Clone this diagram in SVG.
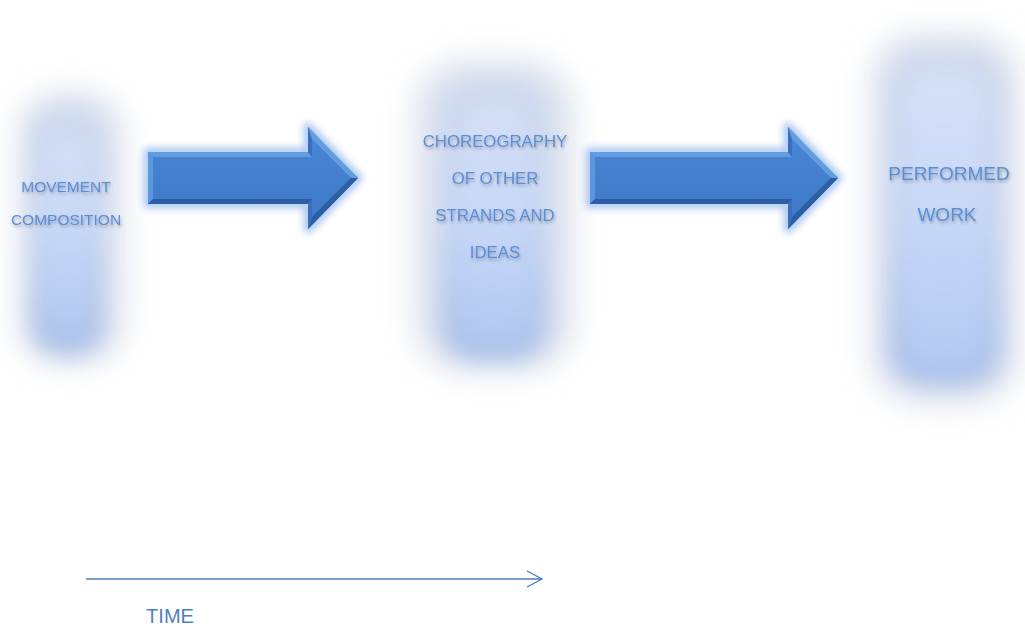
<svg xmlns="http://www.w3.org/2000/svg" width="1025" height="629" viewBox="0 0 1025 629">
<defs>
  <filter id="soft" x="-60%" y="-30%" width="220%" height="160%"><feGaussianBlur stdDeviation="11"/></filter>
  <filter id="halo" x="-60%" y="-30%" width="220%" height="160%"><feGaussianBlur stdDeviation="15"/></filter>
  <filter id="glow" x="-20%" y="-40%" width="140%" height="180%"><feGaussianBlur stdDeviation="3.5"/></filter>
  <filter id="tshadow" x="-10%" y="-30%" width="120%" height="180%"><feDropShadow dx="1" dy="2" stdDeviation="1.5" flood-color="#000" flood-opacity="0.28"/></filter>
  <linearGradient id="colV" x1="0" y1="0" x2="0" y2="1">
    <stop offset="0" stop-color="#cfd9ee"/>
    <stop offset="0.5" stop-color="#c4d4f2"/>
    <stop offset="1" stop-color="#a9c0e8"/>
  </linearGradient>
  <linearGradient id="colCore" x1="0" y1="0" x2="0" y2="1">
    <stop offset="0" stop-color="#dbe5fb"/>
    <stop offset="1" stop-color="#b6cdf7"/>
  </linearGradient>
  <linearGradient id="arrowFill" x1="0" y1="0" x2="0" y2="1">
    <stop offset="0" stop-color="#4b87d4"/>
    <stop offset="1" stop-color="#3d77c6"/>
  </linearGradient>
  <marker id="openArrow" markerWidth="20" markerHeight="20" refX="16" refY="9" orient="auto" markerUnits="userSpaceOnUse">
    <path d="M1,1 L16,9 L1,17" fill="none" stroke="#4a7cc4" stroke-width="1.3"/>
  </marker>
  <style>
    .lbl { font-family: "Liberation Sans", Arial, sans-serif; fill: #5a8ed6; text-anchor: middle; filter: url(#tshadow); }
    .halo { fill: #dde3ee; }
    .facetL { fill: #649ce2; }
    .facetD { fill: #2c5da5; }
    .facetM { fill: #3a6fbd; }
    .glowS { fill: none; stroke: #9dbff0; stroke-width: 9; stroke-linejoin: round; opacity: 0.85; filter: url(#glow); }
  </style>
</defs>
<rect width="1025" height="629" fill="#ffffff"/>

<g id="node-movement">
  <rect class="halo" x="18" y="92" width="106" height="272" rx="40" filter="url(#halo)"/>
  <rect x="32" y="108" width="72" height="246" rx="30" fill="url(#colV)" filter="url(#soft)"/>
  <rect x="46" y="135" width="42" height="195" rx="20" fill="url(#colCore)" opacity="0.6" filter="url(#soft)"/>
  <text class="lbl" font-size="15.5" x="66" y="192">MOVEMENT</text>
  <text class="lbl" font-size="15.5" x="66" y="225">COMPOSITION</text>
</g>

<g id="node-choreography">
  <rect class="halo" x="414" y="60" width="160" height="312" rx="50" filter="url(#halo)"/>
  <rect x="440" y="80" width="108" height="280" rx="36" fill="url(#colV)" filter="url(#soft)"/>
  <rect x="460" y="104" width="70" height="236" rx="28" fill="url(#colCore)" opacity="0.6" filter="url(#soft)"/>
  <text class="lbl" font-size="16.8" x="495" y="147">CHOREOGRAPHY</text>
  <text class="lbl" font-size="16.8" x="495" y="184">OF OTHER</text>
  <text class="lbl" font-size="16.8" x="495" y="221">STRANDS AND</text>
  <text class="lbl" font-size="16.8" x="495" y="258">IDEAS</text>
</g>

<g id="node-performed">
  <rect class="halo" x="870" y="32" width="150" height="372" rx="50" filter="url(#halo)"/>
  <rect x="889" y="52" width="112" height="333" rx="36" fill="url(#colV)" filter="url(#soft)"/>
  <rect x="907" y="72" width="76" height="296" rx="28" fill="url(#colCore)" opacity="0.7" filter="url(#soft)"/>
  <text class="lbl" font-size="19" x="949" y="180">PERFORMED</text>
  <text class="lbl" font-size="19" x="947" y="221">WORK</text>
</g>

<g id="connectors">
  <g id="arrow1">
    <polygon class="glowS" points="148,152 308,152 308,127 358,178 308,229 308,204 148,204"/>
    <polygon points="148,152 308,152 308,127 358,178 308,229 308,204 148,204" fill="url(#arrowFill)"/>
    <polygon class="facetL" points="148,152 308,152 312,157 153,157"/>
    <polygon class="facetL" points="148,152 153,157 153,199 148,204" opacity="0.8"/>
    <polygon class="facetD" points="148,204 308,204 312,199 153,199"/>
    <polygon class="facetL" points="308,127 358,178 351,178 312,139"/>
    <polygon class="facetD" points="308,229 358,178 351,178 312,217"/>
    <polygon class="facetM" points="308,127 312,139 312,157 308,152"/>
    <polygon class="facetM" points="308,204 312,199 312,217 308,229"/>
  </g>
  <g id="arrow2">
    <polygon class="glowS" points="590,152 788,152 788,127 838,178 788,229 788,204 590,204"/>
    <polygon points="590,152 788,152 788,127 838,178 788,229 788,204 590,204" fill="url(#arrowFill)"/>
    <polygon class="facetL" points="590,152 788,152 792,157 595,157"/>
    <polygon class="facetL" points="590,152 595,157 595,199 590,204" opacity="0.8"/>
    <polygon class="facetD" points="590,204 788,204 792,199 595,199"/>
    <polygon class="facetL" points="788,127 838,178 831,178 792,139"/>
    <polygon class="facetD" points="788,229 838,178 831,178 792,217"/>
    <polygon class="facetM" points="788,127 792,139 792,157 788,152"/>
    <polygon class="facetM" points="788,204 792,199 792,217 788,229"/>
  </g>
  <line id="time-axis" x1="86" y1="579" x2="542" y2="579" stroke="#4a7cc4" stroke-width="1.3" marker-end="url(#openArrow)"/>
</g>

<text id="time-label" x="170" y="623" font-family="Liberation Sans, Arial, sans-serif" font-size="20" fill="#4f7fc2" text-anchor="middle">TIME</text>
</svg>
